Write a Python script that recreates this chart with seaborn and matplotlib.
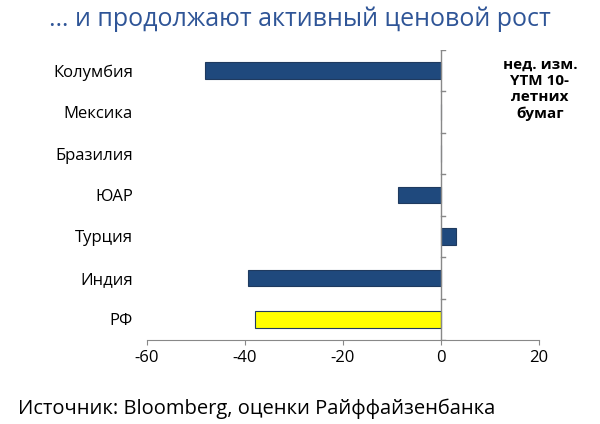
import matplotlib
matplotlib.use("Agg")
import matplotlib.pyplot as plt
import seaborn as sns
import pandas as pd

countries = ["Колумбия", "Мексика", "Бразилия", "ЮАР", "Турция", "Индия", "РФ"]
changes = [-48.2, 0, 0, -8.8, 3.0, -39.4, -38.0]
colors = ["#1F497D", "#1F497D", "#1F497D", "#1F497D", "#1F497D", "#1F497D", "#FFFF00"]
xticks = [-60, -40, -20, 0, 20]

df = pd.DataFrame({"country": countries, "val": changes})
plt.rcParams["font.family"] = "Open Sans"
plt.rcParams["axes.unicode_minus"] = False
fig = plt.figure(figsize=(6, 4.24), dpi=100)
ax = fig.add_axes([147/600, 1-340/424, (539-147)/600, (340-50)/424])
sns.barplot(data=df, x="val", y="country", hue="country", palette=colors, legend=False,
            orient="h", width=0.4, ax=ax, edgecolor="#1F3A5F", linewidth=0.8, saturation=1)
ax.set_xlim(-60, 20)
ax.set_xticks(xticks)
ax.set_xlabel(""); ax.set_ylabel("")
for s in ["top", "right", "left"]:
    ax.spines[s].set_visible(False)
ax.spines["bottom"].set_color("#888888")
ax.axvline(0, color="#888888", lw=1)
for i in range(len(countries) + 1):
    ax.plot([0, 0.8], [i - 0.5, i - 0.5], color="#888888", lw=1)
ax.tick_params(axis="y", length=0, labelsize=12, pad=10)
ax.tick_params(axis="x", labelsize=12, color="#888888")
ax.set_ylim(len(countries) - 0.5, -0.5)
fig.text(0.5, 0.955, "… и продолжают активный ценовой рост", ha="center", va="center",
         fontsize=18, color="#2F5597")
fig.text(0.9, 0.79, "нед. изм.\nYTM 10-\nлетних\nбумаг", ha="center", va="center",
         fontsize=11, fontweight="bold", linespacing=1.2)
fig.text(0.03, 0.035, "Источник: Bloomberg, оценки Райффайзенбанка", ha="left", va="center",
         fontsize=14.5)
fig.savefig("out.png", dpi=100)
